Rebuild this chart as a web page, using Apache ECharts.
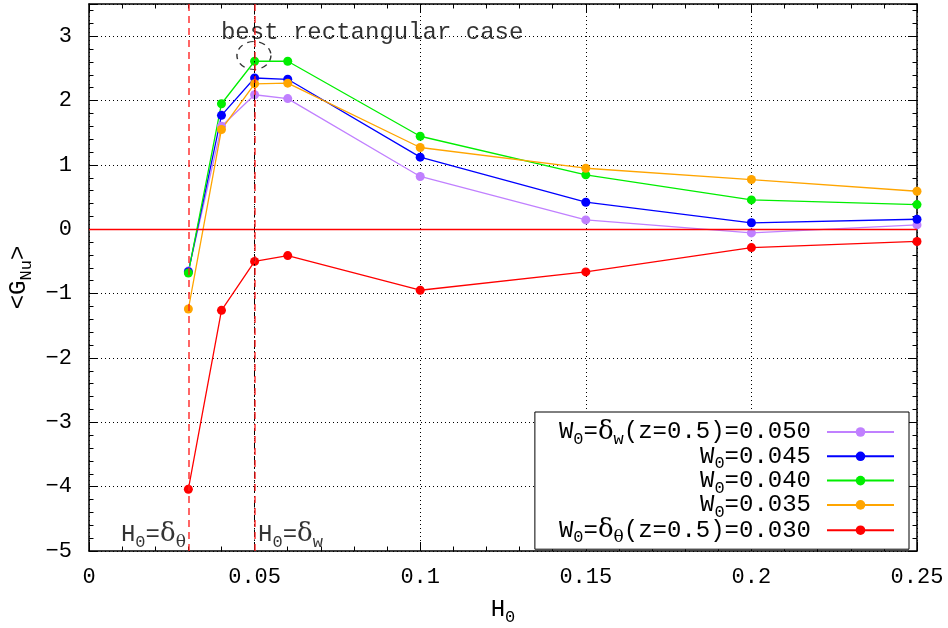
<!DOCTYPE html>
<html>
<head>
<meta charset="utf-8">
<script src="https://cdn.jsdelivr.net/npm/echarts@6/dist/echarts.min.js"></script>
<style>
html,body{margin:0;padding:0;background:#fff;}
#chart{width:948px;height:628px;}
</style>
</head>
<body>
<div id="chart"></div>
<script>
// ---- data ----
const H0 = [0.03, 0.04, 0.05, 0.06, 0.1, 0.15, 0.2, 0.25];
const gW050 = [-0.65, 1.60, 2.09, 2.03, 0.82, 0.145, -0.057, 0.067];
const gW045 = [-0.66, 1.77, 2.35, 2.33, 1.12, 0.42, 0.10, 0.155];
const gW040 = [-0.68, 1.95, 2.61, 2.61, 1.445, 0.845, 0.456, 0.383];
const gW035 = [-1.24, 1.55, 2.26, 2.27, 1.27, 0.948, 0.772, 0.59];
const gW030 = [-4.04, -1.26, -0.50, -0.41, -0.948, -0.663, -0.285, -0.19];

const seriesNames = ['W050', 'W045', 'W040', 'W035', 'W030'];
const seriesValues = [gW050, gW045, gW040, gW035, gW030];
const seriesColors = ['#c080ff', '#0000ff', '#00ee00', '#ffa500', '#ff0000'];
const legendLabels = {
  W050: '{t|W}{s|0}{t|=}{d|δ}{s|w}{t|(z=0.5)=0.050}',
  W045: '{t|W}{s|0}{t|=0.045}',
  W040: '{t|W}{s|0}{t|=0.040}',
  W035: '{t|W}{s|0}{t|=0.035}',
  W030: '{t|W}{s|0}{t|=}{d|δ}{ds|θ}{t|(z=0.5)=0.030}'
};

const xTicks = { min: 0, max: 0.25, interval: 0.05 };
const yTicks = { min: -5, max: 3.5, interval: 1, minor: 0.2 };

// reference lines (data space)
const vLinesRed = [0.03, 0.05];
const vLinesBlack = [0.05];
const hLinesRed = [0];

// annotations (data space anchors)
const annoBest = { x: 0.0855, y: 3.06, text: 'best rectangular case' };
const annoCircle = { x: 0.0498, y: 2.70 };
const annoDeltaTheta = { x: 0.03, y: -4.745, text: '{t|H}{s|0}{t|=}{d|δ}{ds|θ}' };
const annoDeltaW = { x: 0.05, y: -4.745, text: '{t|H}{s|0}{t|=}{d|δ}{s|w}' };

const MONO = 'Liberation Mono';
const LH = 32;
const rich = {
  t: { fontFamily: MONO, fontSize: 24, lineHeight: 22, verticalAlign: 'middle', color: '#000' },
  s: { fontFamily: MONO, fontSize: 17, lineHeight: LH, verticalAlign: 'bottom', color: '#000' },
  d: { fontFamily: 'DejaVu Serif', fontSize: 26, lineHeight: 22, verticalAlign: 'middle', color: '#000' },
  ds: { fontFamily: 'DejaVu Serif', fontSize: 17, lineHeight: LH, verticalAlign: 'bottom', color: '#000' }
};

const chart = echarts.init(document.getElementById('chart'), null, { renderer: 'canvas' });

const black = { color: '#000', width: 1.5 };
function xAx(pos, main) {
  return {
    type: 'value', position: pos, min: xTicks.min, max: xTicks.max, interval: xTicks.interval,
    axisLine: { show: true, onZero: false, lineStyle: black },
    axisTick: { show: true, inside: true, length: 9, lineStyle: { color: '#000', width: 1 } },
    minorTick: { show: true, splitNumber: 5, length: 4.5, lineStyle: { color: '#000', width: 1 } },
    axisLabel: main ? {
      show: true, margin: 15, fontFamily: MONO, fontSize: 22, color: '#000',
      formatter: v => String(+(+v).toFixed(2))
    } : { show: false },
    splitLine: main ? { show: true, lineStyle: { type: [1, 3], color: '#000', width: 1 } } : { show: false },
    name: main ? '{t|H}{s|0}' : '',
    nameLocation: 'middle', nameGap: 43,
    nameTextStyle: { rich: rich }
  };
}
function yAx(pos, major, main) {
  return {
    type: 'value', position: pos, min: yTicks.min, max: yTicks.max,
    interval: major ? yTicks.interval : yTicks.minor,
    axisLine: { show: major, onZero: false, lineStyle: black },
    axisTick: { show: true, inside: true, length: major ? 9 : 4.5, lineStyle: { color: '#000', width: 1 } },
    axisLabel: main ? {
      show: true, margin: 17, fontFamily: MONO, fontSize: 22, color: '#000',
      formatter: v => (Math.abs(v - Math.round(v)) < 1e-9 ? String(Math.round(v)).replace('-', '\u2212') : '')
    } : { show: false },
    splitLine: main ? { show: true, lineStyle: { type: [1, 3], color: '#000', width: 1 } } : { show: false },
    name: main ? '{t|<G}{s|Nu}{t|>}' : '',
    nameLocation: 'middle', nameRotate: 90, nameGap: 53,
    nameTextStyle: { rich: rich }
  };
}

const redDash = { color: 'rgba(255,30,30,0.85)', type: [7, 5], width: 1.6 };
const markData = [];
vLinesBlack.forEach(v => markData.push({ xAxis: v, lineStyle: { color: '#000', type: [7, 3, 1.5, 3], width: 1 } }));
vLinesRed.forEach(v => markData.push({ xAxis: v, lineStyle: redDash }));
hLinesRed.forEach(v => markData.push({ yAxis: v, lineStyle: { color: '#ff0000', type: 'solid', width: 1.3 } }));

const series = [{
  name: 'refs', type: 'line', data: [], silent: true,
  markLine: { silent: true, symbol: ['none', 'none'], label: { show: false }, animation: false, data: markData }
}];
seriesNames.forEach((n, i) => {
  series.push({
    name: n, type: 'line',
    data: H0.map((x, j) => [x, seriesValues[i][j]]),
    symbol: 'circle', symbolSize: 9, showSymbol: true,
    itemStyle: { color: seriesColors[i] },
    lineStyle: { color: seriesColors[i], width: 1.3 },
    emphasis: { disabled: true }
  });
});
series.push({
  name: 'annoCircle', type: 'scatter', silent: true,
  data: [{ value: [annoCircle.x, annoCircle.y], symbolSize: [34, 28] }],
  itemStyle: { color: 'rgba(0,0,0,0)', borderColor: '#000', borderWidth: 1.3, borderType: [6, 5] },
  emphasis: { disabled: true }
});
series.push({
  name: 'annoText', type: 'scatter', silent: true, symbolSize: 1,
  itemStyle: { color: 'rgba(0,0,0,0)' },
  emphasis: { disabled: true },
  data: [
    { value: [annoBest.x, annoBest.y], label: { show: true, position: 'inside', formatter: '{t|' + annoBest.text + '}', rich: rich } },
    { value: [annoDeltaTheta.x, annoDeltaTheta.y], label: { show: true, position: 'left', distance: 2, formatter: annoDeltaTheta.text, rich: rich } },
    { value: [annoDeltaW.x, annoDeltaW.y], label: { show: true, position: 'right', distance: 3, formatter: annoDeltaW.text, rich: rich } }
  ]
});

chart.setOption({
  animation: false,
  backgroundColor: '#fff',
  textStyle: { fontFamily: MONO },
  grid: { left: 89, right: 31, top: 4, bottom: 77, containLabel: false, outerBoundsMode: 'none' },
  xAxis: [xAx('bottom', true), xAx('top', false)],
  yAxis: [yAx('left', true, true), yAx('left', false, false), yAx('right', true, false), yAx('right', false, false)],
  legend: {
    orient: 'vertical', right: 39, top: 412, align: 'right',
    data: seriesNames,
    backgroundColor: '#fff', borderColor: '#000', borderWidth: 1, borderRadius: 0,
    padding: [7, 14, 3, 24],
    itemWidth: 67, itemHeight: 12, itemGap: -3.7,
    selectedMode: false,
    formatter: name => legendLabels[name],
    textStyle: { padding: [0, 11, 0, 0], rich: rich }
  },
  series: series
});
</script>
</body>
</html>
